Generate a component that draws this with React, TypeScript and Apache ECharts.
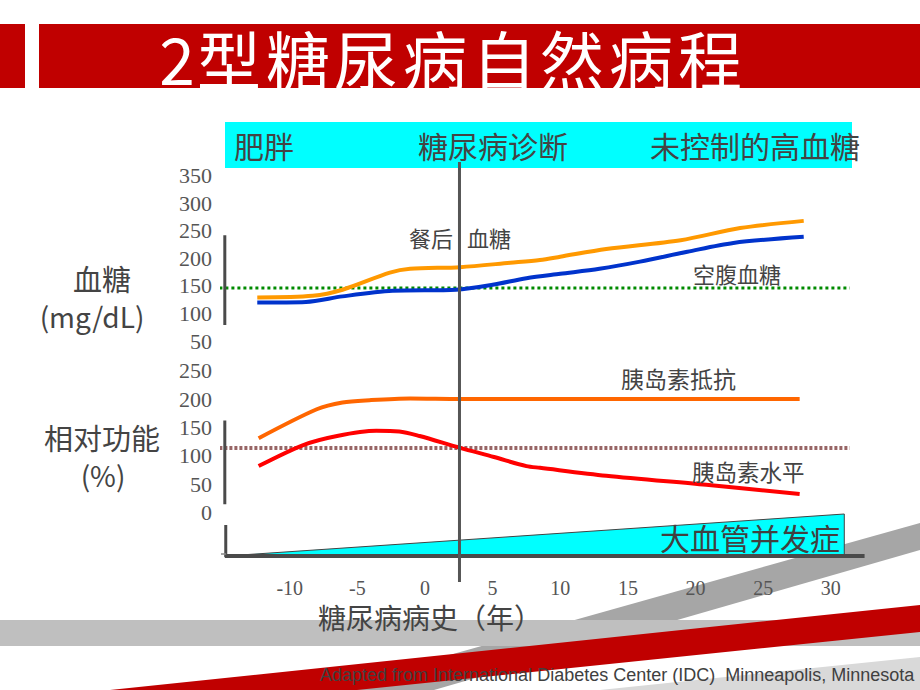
import React, { useEffect, useRef } from "react";
import * as echarts from "echarts";

// ---------- data ----------
const xTicks = [-10, -5, 0, 5, 10, 15, 20, 25, 30];
const glucoseTicks = [50, 100, 150, 200, 250, 300, 350];
const functionTicks = [0, 50, 100, 150, 200, 250];

// 餐后血糖 (post-meal glucose, mg/dL)
const postMealYears = [-12.4, -8.3, -6.1, -2.6, -1.1, 2.6, 6.3, 8.5, 10.0, 13.4, 18.9, 23.3, 28.0];
const postMealGlucose = [129, 132, 143, 174, 181, 184, 192, 197, 203, 217, 233, 255, 268];

// 空腹血糖 (fasting glucose, mg/dL)
const fastingYears = [-12.4, -8.8, -6.1, -2.4, 2.3, 5.0, 7.5, 10.0, 12.9, 15.9, 19.4, 22.8, 28.0];
const fastingGlucose = [120, 121, 131, 141, 143, 152, 164, 172, 181, 194, 212, 228, 239];

// 胰岛素抵抗 (insulin resistance, %)
const resistanceYears = [-12.3, -8.0, -6.1, -4.1, -1.1, 2.6, 10.0, 27.7];
const insulinResistance = [131, 182, 194, 198, 201, 200, 200, 200];

// 胰岛素水平 (insulin level, %)
const insulinYears = [-12.3, -9.0, -6.5, -3.6, -1.9, -0.4, 2.6, 5.1, 7.5, 8.5, 13.4, 20.8, 27.7];
const insulinLevel = [82, 119, 135, 144, 143, 135, 114, 98, 82, 79, 65, 49, 33];

// 大血管并发症 (macrovascular complications, relative)
const complicationYears = [-14.7, 31.0, 31.0];
const complicationBurden = [0, 84, 0];

// reference lines
const diagnosisYear = 2.55;
const glucoseThreshold = 146;
const functionThreshold = 114;
const refLineYears = [-15.2, 31.4];

// broken-axis segments
const axisSegYear = -14.8;
const glucoseAxisSpan = [79, 242];
const functionAxisSpan = [15, 162];
const complicationAxisSpan = [-2, 62];
const baseAxisYears = [-14.8, 32.5];

const X_MIN = -15;
const X_MAX = 35;

const CJK = "'Noto Sans CJK SC', 'Noto Sans', sans-serif";
const SERIF = "'Liberation Serif', 'DejaVu Serif', serif";
const TEXT = "#444";

const pairs = (xs: number[], ys: number[]) => xs.map((x, i) => [x, ys[i]]);

function line(grid: number, data: number[][], color: string, width: number, extra: any = {}) {
  return {
    type: "line",
    xAxisIndex: grid,
    yAxisIndex: grid,
    data,
    symbol: "none",
    silent: true,
    lineStyle: { color, width, cap: "butt" },
    itemStyle: { color },
    ...extra,
  };
}

function txt(text: string, x: number, y: number, size: number, opts: any = {}) {
  return {
    type: "text",
    x,
    y,
    z: 10,
    silent: true,
    style: {
      text,
      fontSize: size,
      fontFamily: CJK,
      fill: TEXT,
      align: "left",
      verticalAlign: "middle",
      ...opts,
    },
  };
}

const gridLeft = 222.1;
const gridRight = 21.6;

const yLabel = {
  margin: 10,
  fontFamily: SERIF,
  fontSize: 22,
  color: "#555",
};

const option: any = {
  animation: false,
  backgroundColor: "#ffffff",
  grid: [
    { left: gridLeft, right: gridRight, top: 175.7, height: 165.3 },
    { left: gridLeft, right: gridRight, top: 370.6, height: 142.1 },
    { left: gridLeft, right: gridRight, top: 506, height: 50 },
  ],
  xAxis: [0, 1, 2].map((g) => ({
    type: "value",
    gridIndex: g,
    min: X_MIN,
    max: X_MAX,
    interval: 5,
    show: g === 2,
    z: 5,
    axisLine: { show: false },
    axisTick: { show: false },
    splitLine: { show: false },
    axisLabel: {
      margin: 22,
      fontFamily: SERIF,
      fontSize: 20,
      color: "#555",
      formatter: (v: number) => (xTicks.indexOf(v) >= 0 ? String(v) : ""),
    },
  })),
  yAxis: [
    {
      type: "value",
      gridIndex: 0,
      min: glucoseTicks[0],
      max: glucoseTicks[glucoseTicks.length - 1],
      interval: 50,
      axisLine: { show: false },
      axisTick: { show: false },
      splitLine: { show: false },
      axisLabel: yLabel,
    },
    {
      type: "value",
      gridIndex: 1,
      min: functionTicks[0],
      max: functionTicks[functionTicks.length - 1],
      interval: 50,
      axisLine: { show: false },
      axisTick: { show: false },
      splitLine: { show: false },
      axisLabel: yLabel,
    },
    { type: "value", gridIndex: 2, min: 0, max: 100, show: false },
  ],
  series: [
    // upper panel
    line(0, pairs(refLineYears, [glucoseThreshold, glucoseThreshold]), "#008A00", 3, {
      clip: false,
      lineStyle: { color: "#008A00", width: 3, type: [3, 3], cap: "butt" },
    }),
    line(0, pairs(postMealYears, postMealGlucose), "#FF9900", 4, { smooth: 0.3 }),
    line(0, pairs(fastingYears, fastingGlucose), "#0033CC", 4, { smooth: 0.3 }),
    line(0, [[axisSegYear, glucoseAxisSpan[0]], [axisSegYear, glucoseAxisSpan[1]]], "#4a4a4a", 3),
    // lower panel
    line(1, pairs(refLineYears, [functionThreshold, functionThreshold]), "#976565", 4, {
      clip: false,
      lineStyle: { color: "#976565", width: 4, type: [3, 2], cap: "butt" },
    }),
    line(1, pairs(resistanceYears, insulinResistance), "#FF6600", 4, { smooth: 0.3 }),
    line(1, pairs(insulinYears, insulinLevel), "#FF0000", 4, { smooth: 0.3 }),
    line(1, [[axisSegYear, functionAxisSpan[0]], [axisSegYear, functionAxisSpan[1]]], "#4a4a4a", 3),
    // complications panel
    line(2, pairs(complicationYears, complicationBurden), "#444", 1, {
      areaStyle: { color: "#00FFFF", opacity: 1 },
    }),
    line(2, [[baseAxisYears[0], 0], [baseAxisYears[1], 0]], "#4a4a4a", 4, { clip: false, z: 3 }),
    line(2, [[-14.73, complicationAxisSpan[0]], [-14.73, complicationAxisSpan[1]]], "#4a4a4a", 3, {
      clip: false,
      z: 3,
    }),
    line(2, [[-15.3, 4], [-14.7, 4]], "#888", 1.5, { clip: false, z: 3 }),
  ],
};

const titleChars = ["2", "型", "糖", "尿", "病", "自", "然", "病", "程"];
const titleCenters = [177, 229, 298, 366, 435, 504, 572, 641, 710];

function buildGraphics(diagX: number) {
  const g: any[] = [];
  // bottom decorative bands
  g.push({
    type: "polygon",
    z: 0,
    silent: true,
    shape: { points: [[920, 523], [920, 550], [434, 690], [325, 690]] },
    style: { fill: "#A6A6A6" },
  });
  g.push({
    type: "rect",
    z: 1,
    silent: true,
    shape: { x: 0, y: 620, width: 920, height: 26 },
    style: { fill: "#BFBFBF" },
  });
  g.push({
    type: "polygon",
    z: 2,
    silent: true,
    shape: { points: [[110, 690], [920, 605], [920, 632], [357, 690]] },
    style: { fill: "#C00000" },
  });
  g.push({
    type: "polygon",
    z: 2,
    silent: true,
    shape: { points: [[600, 690], [920, 657], [920, 690]] },
    style: { fill: "#D9D9D9" },
  });
  // title band
  g.push({ type: "rect", z: 0, silent: true, shape: { x: 0, y: 24, width: 25, height: 64 }, style: { fill: "#C00000" } });
  g.push({ type: "rect", z: 0, silent: true, shape: { x: 39, y: 24, width: 881, height: 64 }, style: { fill: "#C00000" } });
  titleChars.forEach((c, i) =>
    g.push(txt(c, titleCenters[i], 57, 64, { fill: "#ffffff", align: "center" }))
  );
  // stage header
  g.push({ type: "rect", z: 0, silent: true, shape: { x: 225, y: 122, width: 627, height: 46 }, style: { fill: "#00FFFF" } });
  g.push(txt("肥胖", 234, 145, 30));
  g.push(txt("糖尿病诊断", 418, 145, 30));
  g.push(txt("未控制的高血糖", 650, 145, 30));
  // axis titles
  g.push(txt("血糖", 102, 278, 29, { align: "center" }));
  g.push(txt("(mg/dL)", 92, 316, 28, { align: "center" }));
  g.push(txt("相对功能", 102, 437, 29, { align: "center" }));
  g.push(txt("(%)", 103, 475, 28, { align: "center" }));
  // annotations
  g.push(txt("餐后", 453, 237, 22, { align: "right" }));
  g.push(txt("血糖", 467, 237, 22));
  g.push(txt("空腹血糖", 693, 273, 22));
  g.push(txt("胰岛素抵抗", 621, 378, 23));
  g.push(txt("胰岛素水平", 692, 471, 22.5));
  g.push(txt("大血管并发症", 660, 537, 30, { fill: "#404040" }));
  g.push(txt("糖尿病病史（年）", 318, 617, 28));
  g.push(
    txt("Adapted from International Diabetes Center (IDC)  Minneapolis, Minnesota", 320, 675, 18, {
      fontFamily: "'Liberation Sans', Arial, sans-serif",
      fill: "#404040",
    })
  );
  // diagnosis line
  g.push({
    type: "line",
    z: 20,
    silent: true,
    shape: { x1: diagX, y1: 162, x2: diagX, y2: 582 },
    style: { stroke: "#555", lineWidth: 3 },
  });
  return g;
}

export default function App() {
  const ref = useRef<HTMLDivElement>(null);
  useEffect(() => {
    const el = ref.current;
    if (!el) return;
    const chart = echarts.init(el, null, { renderer: "svg" });
    chart.setOption(option);
    const px = chart.convertToPixel({ xAxisIndex: 0 }, diagnosisYear) as number;
    chart.setOption({ graphic: buildGraphics(px) });
    return () => chart.dispose();
  }, []);
  return (
    <div
      ref={ref}
      style={{ position: "fixed", left: 0, top: 0, width: 920, height: 690, background: "#fff" }}
    />
  );
}
